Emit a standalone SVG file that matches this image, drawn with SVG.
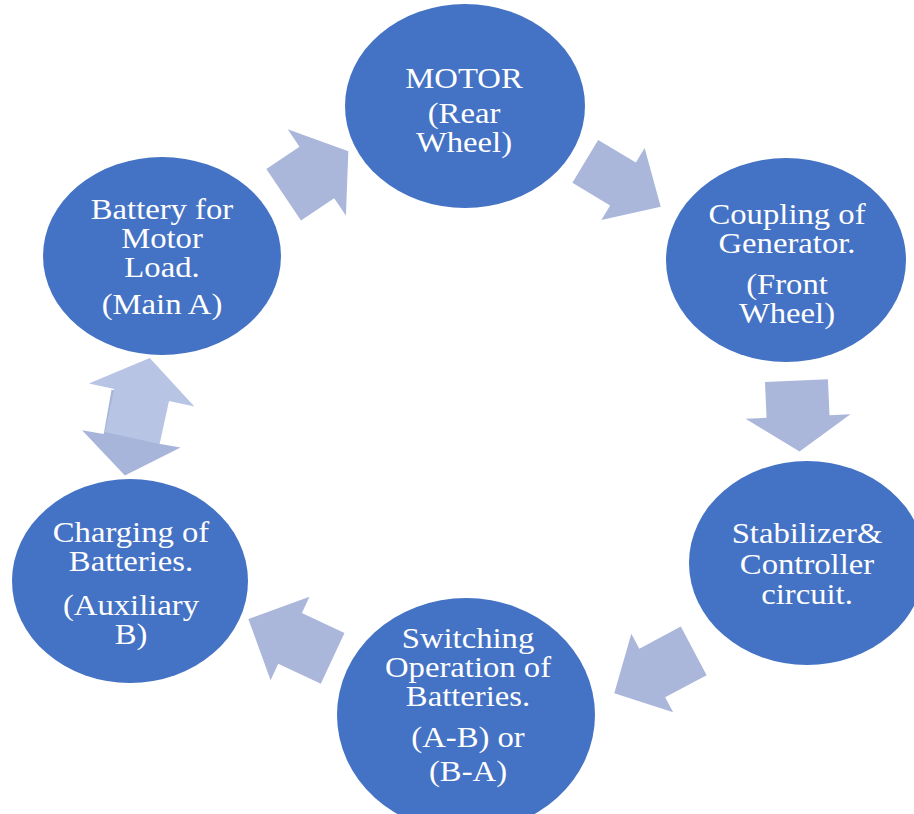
<svg xmlns="http://www.w3.org/2000/svg" width="914" height="814" viewBox="0 0 914 814">
<style>
.node ellipse{fill:#4472C4;}
.lbl{font-family:"Liberation Serif","Times New Roman",serif;font-size:30px;fill:#ffffff;text-anchor:middle;}
.arr{fill:#AAB7DB;}
.arrDark{fill:#A8B5DA;}
.arrLight{fill:#B7C4E4;}
</style>
<rect x="0" y="0" width="914" height="814" fill="#ffffff"/>
<g id="connectors">
  <polygon class="arr" transform="translate(316,173) rotate(-34)" points="-39,-31 1,-31 1,-52 39,0 1,52 1,31 -39,31"/>
  <polygon class="arr" transform="translate(623,184) rotate(31)" points="-44,-25 0,-25 0,-42 44,0 0,42 0,25 -44,25"/>
  <polygon class="arr" transform="translate(798,416) rotate(87.5)" points="-35.5,-31.5 0.5,-31.5 0.5,-52.5 35.5,0 0.5,52.5 0.5,31.5 -35.5,31.5"/>
  <polygon class="arr" transform="translate(654,672) rotate(152)" points="-45,-27.5 2,-27.5 2,-44.5 45,0 2,44.5 2,27.5 -45,27.5"/>
  <polygon class="arr" transform="translate(290.5,638.7) rotate(205)" points="-46.5,-28 0.5,-28 0.5,-46 46.5,0 0.5,46 0.5,28 -46.5,28"/>
  <polygon class="arrDark" transform="translate(132,435) rotate(100)" points="-41,-28 4,-28 4,-50 41,0 4,50 4,28 -41,28"/>
  <polygon class="arrLight" transform="translate(141,398) rotate(-77.7)" points="-41,-28 3,-28 3,-54 41,0 3,54 3,28 -41,28"/>
</g>
<g id="motor" class="node">
  <ellipse cx="465" cy="106" rx="120" ry="102"/>
  <g transform="translate(464,0) scale(1.09,1)">
    <text class="lbl" x="0" y="88">MOTOR</text>
    <text class="lbl" x="0" y="123">(Rear</text>
    <text class="lbl" x="0" y="152">Wheel)</text>
  </g>
</g>
<g id="coupling" class="node">
  <ellipse cx="786" cy="260" rx="120" ry="102"/>
  <g transform="translate(787,0) scale(1.09,1)">
    <text class="lbl" x="0" y="224">Coupling of</text>
    <text class="lbl" x="0" y="253">Generator.</text>
    <text class="lbl" x="0" y="294">(Front</text>
    <text class="lbl" x="0" y="323">Wheel)</text>
  </g>
</g>
<g id="stabilizer" class="node">
  <ellipse cx="807" cy="563" rx="118" ry="102"/>
  <g transform="translate(807,0) scale(1.09,1)">
    <text class="lbl" x="0" y="543">Stabilizer&amp;</text>
    <text class="lbl" x="0" y="574">Controller</text>
    <text class="lbl" x="0" y="604">circuit.</text>
  </g>
</g>
<g id="switching" class="node">
  <ellipse cx="466" cy="715" rx="129" ry="117"/>
  <g transform="translate(468,0) scale(1.09,1)">
    <text class="lbl" x="0" y="648">Switching</text>
    <text class="lbl" x="0" y="677">Operation of</text>
    <text class="lbl" x="0" y="706">Batteries.</text>
    <text class="lbl" x="0" y="747">(A-B) or</text>
    <text class="lbl" x="0" y="781">(B-A)</text>
  </g>
</g>
<g id="charging" class="node">
  <ellipse cx="130" cy="581" rx="118" ry="102"/>
  <g transform="translate(131,0) scale(1.09,1)">
    <text class="lbl" x="0" y="542">Charging of</text>
    <text class="lbl" x="0" y="571">Batteries.</text>
    <text class="lbl" x="0" y="615">(Auxiliary</text>
    <text class="lbl" x="0" y="644">B)</text>
  </g>
</g>
<g id="battery" class="node">
  <ellipse cx="162" cy="256" rx="119" ry="99"/>
  <g transform="translate(162,0) scale(1.09,1)">
    <text class="lbl" x="0" y="219">Battery for</text>
    <text class="lbl" x="0" y="248">Motor</text>
    <text class="lbl" x="0" y="277">Load.</text>
    <text class="lbl" x="0" y="314">(Main A)</text>
  </g>
</g>
</svg>
